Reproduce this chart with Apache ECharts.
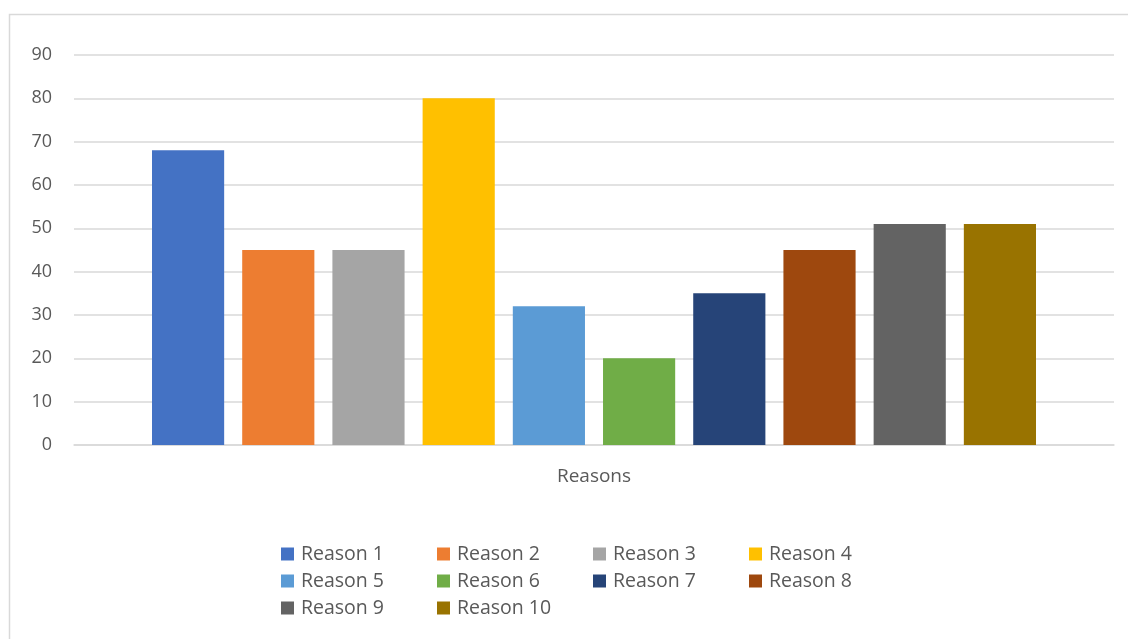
<!DOCTYPE html>
<html>
<head>
<meta charset="utf-8">
<script src="https://cdn.jsdelivr.net/npm/echarts@6/dist/echarts.min.js"></script>
<style>html,body{margin:0;padding:0;background:#fff;}#c{width:1128px;height:639px;}</style>
</head>
<body>
<div id="c"></div>
<script>
var categories = ['Reasons'];
var seriesNames = ['Reason 1','Reason 2','Reason 3','Reason 4','Reason 5','Reason 6','Reason 7','Reason 8','Reason 9','Reason 10'];
var seriesValues = [68, 45, 45, 80, 32, 20, 35, 45, 51, 51];
var seriesColors = ['#4472C4','#ED7D31','#A5A5A5','#FFC000','#5B9BD5','#70AD47','#264478','#9E480E','#636363','#997300'];
var yTicks = {min: 0, max: 90, interval: 10};

var chart = echarts.init(document.getElementById('c'), null, {renderer: 'canvas'});
var font = '"Open Sans", Lato, sans-serif';
var series = seriesNames.map(function (n, i) {
  return {
    name: n,
    type: 'bar',
    data: [seriesValues[i]],
    itemStyle: {color: seriesColors[i]},
    barGap: '25%',
    barCategoryGap: '15%',
    emphasis: {disabled: true}
  };
});
chart.setOption({
  animation: false,
  color: seriesColors,
  graphic: [{
    type: 'rect',
    shape: {x: 9.5, y: 14.5, width: 1200, height: 700},
    style: {fill: 'none', stroke: '#d9d9d9', lineWidth: 1.5},
    silent: true
  }],
  grid: {left: 74, right: 14, top: 55, bottom: 194},
  xAxis: {
    type: 'category',
    data: categories,
    axisLine: {show: true, lineStyle: {color: '#d9d9d9', width: 1.5}},
    axisTick: {show: false},
    axisLabel: {color: '#595959', fontSize: 19, fontFamily: font, margin: 22}
  },
  yAxis: {
    type: 'value',
    min: yTicks.min, max: yTicks.max, interval: yTicks.interval,
    axisLine: {show: false},
    axisTick: {show: false},
    splitLine: {lineStyle: {color: '#d9d9d9', width: 1.5}},
    axisLabel: {color: '#595959', fontSize: 18, fontFamily: font, margin: 22}
  },
  legend: {
    left: 276, top: 538, width: 640,
    orient: 'horizontal',
    itemWidth: 13, itemHeight: 13, itemGap: 5,
    icon: 'rect',
    textStyle: {color: '#595959', fontSize: 19.5, fontFamily: font, width: 131, lineHeight: 22, padding: [0,0,0,2]},
    data: seriesNames
  },
  series: series
});
</script>
</body>
</html>
